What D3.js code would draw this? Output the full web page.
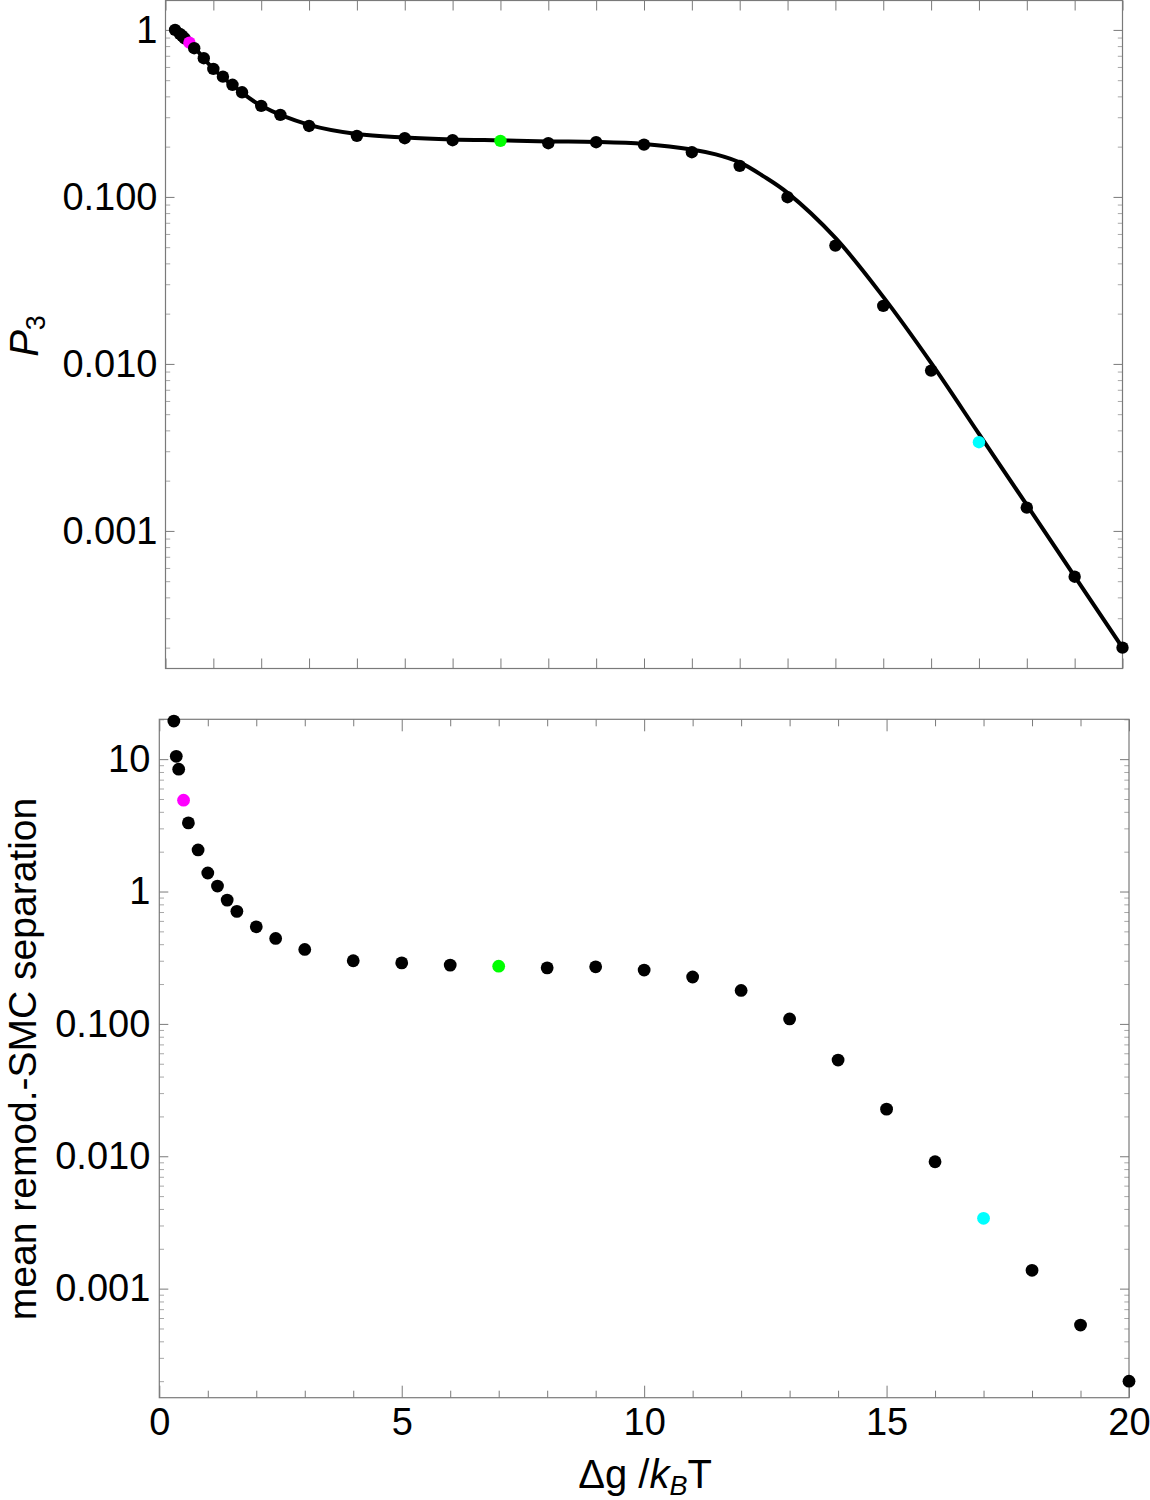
<!DOCTYPE html>
<html><head><meta charset="utf-8">
<script src="https://cdn.jsdelivr.net/npm/d3@7"></script>
<style>
body{margin:0;background:#fff}
text{font-family:"Liberation Sans",Arial,Helvetica,sans-serif;fill:#000}
</style>
</head><body>
<svg id="chart" width="1150" height="1500"></svg>
<script>
// ---------- data ----------
const topX = [0.2,0.3,0.35,0.4,0.5,0.6,0.8,1.0,1.2,1.4,1.6,2,2.4,3,4,5,6,7,8,9,10,11,12,13,14,15,16,17,18,19,20];
const topP3 = [1.0,0.946,0.921,0.889,0.839,0.777,0.677,0.584,0.525,0.469,0.423,0.351,0.310,0.266,0.232,0.2246,0.2186,0.2165,0.2097,0.2126,0.2056,0.1852,0.1533,0.0996,0.0511,0.02225,0.00912,0.003397,0.001379,0.000532,0.000200];

const curveX = [0.2,0.5,1,1.5,2,3,4,5,6,7,8,9,10,11,11.5,12,12.5,13,14,15,16,17,18,19,20];
const curveP3 = [1.0,0.847,0.584,0.443,0.351,0.270,0.238,0.227,0.221,0.218,0.215,0.2135,0.2077,0.1925,0.1796,0.1609,0.1327,0.1057,0.0568,0.0252,0.01014,0.00381,0.001431,0.000534,0.000200];

const botX = [0.3,0.35,0.4,0.5,0.6,0.8,1.0,1.2,1.4,1.6,2,2.4,3,4,5,6,7,8,9,10,11,12,13,14,15,16,17,18,19,20];
const botSep = [19.4,10.5,8.4,4.9,3.30,2.06,1.38,1.10,0.861,0.708,0.541,0.442,0.365,0.300,0.289,0.278,0.273,0.265,0.270,0.255,0.226,0.179,0.109,0.0533,0.0227,0.00909,0.00340,0.001375,0.000531,0.000200];

const highlightX = [0.5, 7, 17];
const highlightColors = ["#ff00ff", "#00ff00", "#00ffff"];

const topYTicks = [0.001, 0.01, 0.1, 1];
const topYLabels = ["0.001", "0.010", "0.100", "1"];
const botYTicks = [0.001, 0.01, 0.1, 1, 10];
const botYLabels = ["0.001", "0.010", "0.100", "1", "10"];
const xMajor = [0, 5, 10, 15, 20];
const xMajorLabels = ["0", "5", "10", "15", "20"];
const xInteger = d3.range(0, 21);

// ---------- setup ----------
const svg = d3.select("#chart");
const FRAME = "#7a7a7a", MINOR = "#a8a8a8";
const FS = 38, TFS = 40;

function minorTicks(dom) {
  const out = [];
  for (let e = -5; e <= 2; e++) for (let k = 2; k <= 9; k++) {
    const v = k * Math.pow(10, e);
    if (v >= dom[0] && v <= dom[1]) out.push(v);
  }
  return out;
}

function colorOf(x) {
  const i = highlightX.indexOf(x);
  return i >= 0 ? highlightColors[i] : "#000";
}

function drawPanel(cfg) {
  const x = d3.scaleLinear().domain([0, 20]).range([cfg.left, cfg.right]);
  const y = d3.scaleLog().domain(cfg.yDom).range([cfg.bottom, cfg.top]);
  const g = svg.append("g");
  const W = cfg.right - cfg.left, Hh = cfg.bottom - cfg.top;

  const addX = (vals, len, color, labels) => {
    const ab = d3.axisBottom(x).tickValues(vals).tickSizeInner(-len).tickSizeOuter(0).tickPadding(10)
      .tickFormat(labels ? (d, i) => labels[i] : () => "");
    const gb = g.append("g").attr("transform", `translate(0,${cfg.bottom})`).call(ab);
    const at = d3.axisTop(x).tickValues(vals).tickSizeInner(-len).tickSizeOuter(0).tickFormat(() => "");
    const gt = g.append("g").attr("transform", `translate(0,${cfg.top})`).call(at);
    [gb, gt].forEach(s => {
      s.select(".domain").remove();
      s.selectAll("line").attr("stroke", color).attr("stroke-width", 1);
      s.selectAll("text").attr("font-size", FS).attr("font-family", null).attr("fill", "#000");
    });
  };
  if (cfg.xLabels) {
    addX(xInteger.filter(v => v % 5 !== 0), 7, FRAME, null);
    addX(xMajor, 12, FRAME, xMajorLabels);
  } else {
    addX(xInteger, 10, FRAME, null);
  }

  const addY = (vals, len, color, labels) => {
    const al = d3.axisLeft(y).tickValues(vals).tickSizeInner(-len).tickSizeOuter(0).tickPadding(cfg.yPad)
      .tickFormat(labels ? (d, i) => labels[i] : () => "");
    const gl = g.append("g").attr("transform", `translate(${cfg.left},0)`).call(al);
    const ar = d3.axisRight(y).tickValues(vals).tickSizeInner(-len).tickSizeOuter(0).tickFormat(() => "");
    const gr = g.append("g").attr("transform", `translate(${cfg.right},0)`).call(ar);
    [gl, gr].forEach(s => {
      s.select(".domain").remove();
      s.selectAll("line").attr("stroke", color).attr("stroke-width", 1);
      s.selectAll("text").attr("font-size", FS).attr("font-family", null).attr("fill", "#000");
    });
  };
  addY(minorTicks(cfg.yDom), 4.7, MINOR, null);
  addY(cfg.yTicks, 9, FRAME, cfg.yLabels);

  g.append("rect").attr("x", cfg.left).attr("y", cfg.top).attr("width", W).attr("height", Hh)
    .attr("fill", "none").attr("stroke", FRAME).attr("stroke-width", 1.2);

  return { g, x, y };
}

// ---------- top panel ----------
const T = drawPanel({
  left: 165.5, right: 1122.5, top: 0.5, bottom: 668.5,
  yDom: [1.5e-4, 1.5], yTicks: topYTicks, yLabels: topYLabels, yPad: 8, xLabels: false
});
const curveData = curveX.map((v, i) => [v, curveP3[i]]);
T.g.append("path").datum(curveData)
  .attr("fill", "none").attr("stroke", "#000").attr("stroke-width", 4).attr("stroke-linejoin", "round")
  .attr("d", d3.line().x(d => T.x(d[0])).y(d => T.y(d[1])).curve(d3.curveCatmullRom.alpha(0.5)));
T.g.selectAll("circle.pt").data(topX.map((v, i) => [v, topP3[i]])).join("circle")
  .attr("class", "pt").attr("cx", d => T.x(d[0])).attr("cy", d => T.y(d[1])).attr("r", 6.2)
  .attr("fill", d => colorOf(d[0]));

// ---------- bottom panel ----------
const B = drawPanel({
  left: 159.3, right: 1129, top: 719.3, bottom: 1397.7,
  yDom: [1.5e-4, 20], yTicks: botYTicks, yLabels: botYLabels, yPad: 9, xLabels: true
});
B.g.selectAll("circle.pt").data(botX.map((v, i) => [v, botSep[i]])).join("circle")
  .attr("class", "pt").attr("cx", d => B.x(d[0])).attr("cy", d => B.y(d[1])).attr("r", 6.4)
  .attr("fill", d => colorOf(d[0]));

// ---------- titles ----------
const yt1 = svg.append("text").attr("transform", "translate(38,336) rotate(-90)")
  .attr("text-anchor", "middle").attr("font-size", TFS);
yt1.append("tspan").attr("font-style", "italic").text("P");
yt1.append("tspan").attr("font-size", 27).attr("dy", 7).text("3");

svg.append("text").attr("transform", "translate(36,1059) rotate(-90)")
  .attr("text-anchor", "middle").attr("font-size", 39).text("mean remod.-SMC separation");

const xt = svg.append("text").attr("x", 645).attr("y", 1488)
  .attr("text-anchor", "middle").attr("font-size", TFS);
xt.append("tspan").text("Δg /");
xt.append("tspan").attr("font-style", "italic").text("k");
xt.append("tspan").attr("font-style", "italic").attr("font-size", 27).attr("dy", 7).text("B");
xt.append("tspan").attr("dy", -7).text("T");
</script>
</body></html>
